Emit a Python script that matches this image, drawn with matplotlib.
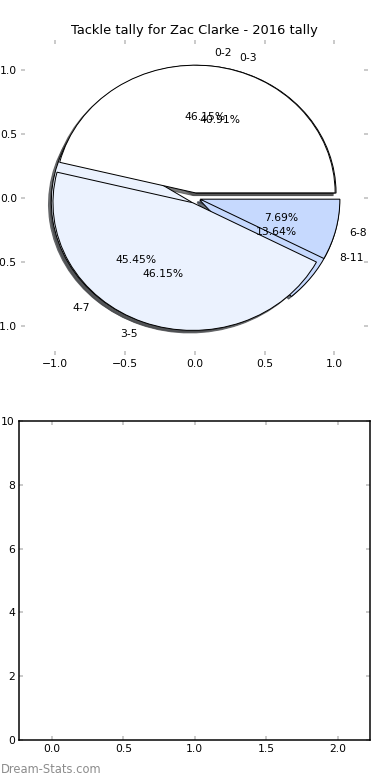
import matplotlib
matplotlib.use("Agg")
import matplotlib.pyplot as plt

# tackle buckets for the two seasons shown on the pie
labels_a = ['0-2', '3-5', '6-8']
values_a = [6, 6, 1]
labels_b = ['0-3', '4-7', '8-11']
values_b = [9, 10, 3]
explode = [0.04, 0.04, 0.04]
pie_colors = ['white', '#ebf2fe', '#c6d9fe']

x_ticks = [0.0, 0.5, 1.0, 1.5, 2.0]
y_ticks = [0, 2, 4, 6, 8, 10]
pie_ticks = [-1.0, -0.5, 0.0, 0.5, 1.0]

W, H = 390, 780
fig = plt.figure(figsize=(W / 72, H / 72), dpi=72)

tick_kw = dict(direction='in', length=4, width=1.5, color='#bbbbbb',
               top=True, right=True, labelsize=10.8, labelcolor='black', pad=4)

# top: two overlaid pies
ax1 = fig.add_axes([21 / W, 1 - 355 / H, 347 / W, 315 / H])
for vals, labs in [(values_b, labels_b), (values_a, labels_a)]:
    ax1.pie(vals, labels=labs, colors=pie_colors, explode=explode,
            autopct='%1.2f%%', startangle=0,
            shadow={'ox': -0.02, 'oy': -0.02, 'alpha': 0.75},
            wedgeprops={'edgecolor': 'black', 'linewidth': 1},
            textprops={'fontsize': 10.8})
ax1.set_aspect('auto')
ax1.set_xlim(-1.243, 1.24)
ax1.set_ylim(-1.23, 1.237)
ax1.set_frame_on(False)
ax1.set_xticks(pie_ticks)
ax1.set_yticks(pie_ticks)
ax1.tick_params(**tick_kw)
ax1.set_title('Tackle tally for Zac Clarke - 2016 tally', fontsize=13)

# bottom: empty axes
ax2 = fig.add_axes([19 / W, 1 - 740 / H, 351 / W, 319 / H])
ax2.set_xlim(-0.231, 2.227)
ax2.set_ylim(0, 10)
ax2.set_xticks(x_ticks)
ax2.set_yticks(y_ticks)
ax2.tick_params(**tick_kw)
for sp in ax2.spines.values():
    sp.set_linewidth(1.5)

fig.text(1 / W, 4 / H, 'Dream-Stats.com', color='#8c8c8c', fontsize=11.5,
         ha='left', va='bottom')

fig.savefig('out.png', dpi=72)
